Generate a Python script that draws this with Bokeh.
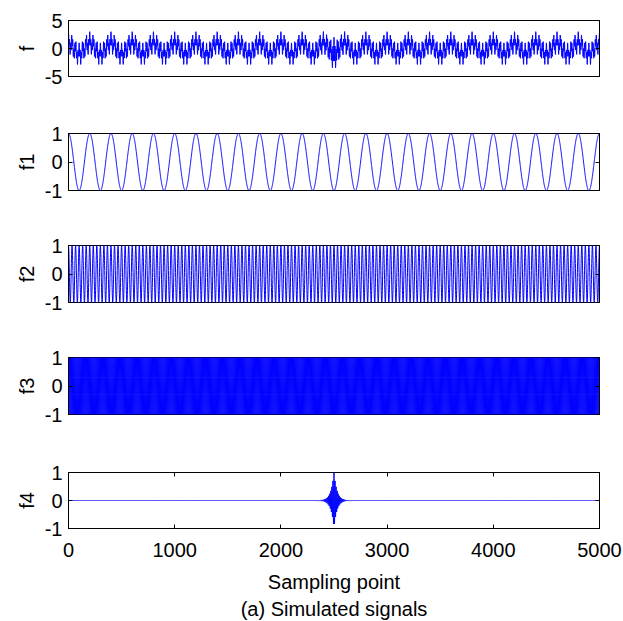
import numpy as np
from bokeh.plotting import figure
from bokeh.layouts import column
from bokeh.models import Range1d, FixedTicker, LinearAxis, Title
from bokeh.embed import file_html
from bokeh.resources import INLINE

# ---- data (parameters) ----
n_points = 5000
panel_names = ["f", "f1", "f2", "f3", "f4"]
y_limits = [(-5, 5), (-1, 1), (-1, 1), (-1, 1), (-1, 1)]
y_ticks = [[-5, 0, 5], [-1, 0, 1], [-1, 0, 1], [-1, 0, 1], [-1, 0, 1]]
x_ticks = [0, 1000, 2000, 3000, 4000, 5000]
component_cycles = [25, 150, 500]          # cycles over the 5000 samples for f1, f2, f3
component_amplitudes = [1.0, 1.0, 1.0]
burst_center = 2500                         # f4 transient
burst_decay = 28
burst_period = 10
burst_amplitude = 1.0

x = np.arange(n_points)
comps = [a * np.cos(2 * np.pi * c * x / n_points)
         for c, a in zip(component_cycles, component_amplitudes)]
f4 = burst_amplitude * np.exp(-np.abs(x - burst_center) / burst_decay) * \
    np.cos(2 * np.pi * (x - burst_center) / burst_period)
f = comps[0] + comps[1] + comps[2] + f4
signals = [f, comps[0], comps[1], comps[2], f4]

FONT = "Liberation Sans"
FS = "20px"

# layout: (top border, frame height, bottom border)
layout_px = [(20, 56, 28), (29, 57, 27), (28, 57, 27), (28, 57, 29), (29, 56, 93)]

x_range = Range1d(0, 5000)
figs = []
for i, (name, lim, yt, sig, (bt, fh, bb)) in enumerate(
        zip(panel_names, y_limits, y_ticks, signals, layout_px)):
    last = i == len(panel_names) - 1
    p = figure(width=623, height=bt + fh + bb, x_range=x_range,
               y_range=Range1d(*lim), output_backend="svg",
               toolbar_location=None, min_border_left=68, min_border_right=24,
               min_border_top=bt, min_border_bottom=bb)
    p.line(x, sig, line_color="#0000ff", line_width=1)
    p.xgrid.visible = False
    p.ygrid.visible = False
    p.outline_line_color = "black"
    p.outline_line_width = 1
    p.background_fill_color = "white"
    p.border_fill_color = "white"

    # y axis (left)
    ya = p.yaxis[0]
    ya.ticker = FixedTicker(ticks=yt)
    ya.major_label_overrides = {t: str(t) for t in yt}
    ya.axis_label = name
    ya.axis_label_text_font = FONT
    ya.axis_label_text_font_size = FS
    ya.axis_label_text_font_style = "normal"
    ya.axis_label_text_color = "black"
    ya.axis_label_standoff = 4
    ya.major_label_text_font = FONT
    ya.major_label_text_font_size = FS
    ya.major_label_text_color = "black"
    ya.major_label_standoff = 6
    ya.major_tick_in = 4
    ya.major_tick_out = 0
    ya.minor_tick_line_color = None
    ya.axis_line_color = "black"
    ya.major_label_orientation = "horizontal"

    # mirrored right axis (ticks only)
    ra = LinearAxis(ticker=FixedTicker(ticks=yt), major_label_text_color=None,
                    major_label_text_font_size="1px",
                    major_tick_in=4, major_tick_out=0, minor_tick_line_color=None,
                    major_label_standoff=0, axis_line_color="black")
    p.add_layout(ra, "right")

    xa = p.xaxis[0]
    if last:
        xa.ticker = FixedTicker(ticks=x_ticks)
        xa.axis_label = "Sampling point"
        xa.axis_label_text_font = FONT
        xa.axis_label_text_font_size = FS
        xa.axis_label_text_font_style = "normal"
        xa.axis_label_text_color = "black"
        xa.axis_label_standoff = 11
        xa.major_label_text_font = FONT
        xa.major_label_text_font_size = FS
        xa.major_label_text_color = "black"
        xa.major_label_standoff = 14
        xa.major_tick_in = 4
        xa.major_tick_out = 0
        xa.minor_tick_line_color = None
        xa.axis_line_color = "black"
        ta = LinearAxis(ticker=FixedTicker(ticks=x_ticks), major_label_text_color=None,
                        major_label_text_font_size="1px",
                        major_tick_in=4, major_tick_out=0, minor_tick_line_color=None,
                        major_label_standoff=0, axis_line_color="black")
        p.add_layout(ta, "above")
        t = Title(text="(a) Simulated signals", align="center", text_font=FONT,
                  text_font_size=FS, text_font_style="normal", text_color="black",
                  standoff=0)
        p.add_layout(t, "below")
    else:
        xa.visible = False
    figs.append(p)

layout = column(*figs, spacing=0)
open("out.html", "w").write(file_html(layout, INLINE))
